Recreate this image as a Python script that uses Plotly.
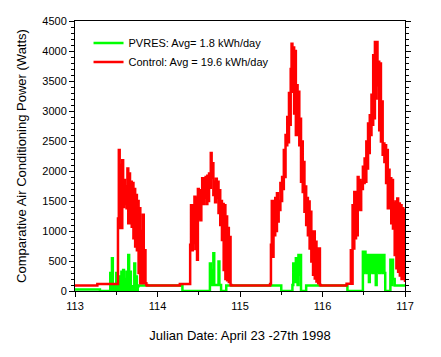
import numpy as np
import plotly.graph_objects as go

# 15-minute samples from Julian day 113.0 to 117.0
SAMPLES_PER_DAY = 96
DAY_START = 113.0

# ---- Control (red) power, Watts ----
control_night1 = [90] * 26
control_predawn1 = [115] * 23
control_day1 = [115, 1210, 2350, 1050, 2100, 1050, 2180, 1400, 1850, 1450, 1740, 1380,
                2040, 1130, 1960, 1130, 1820, 1070, 1800, 880, 1700, 740, 1600, 680,
                1500, 300, 1380, 130, 1000, 130, 1270, 130, 680, 130, 100]
control_night2 = [90] * 38
control_predawn2 = [115] * 12
control_day2 = [770, 1430, 680, 1430, 800, 1570, 700, 1550, 520, 1700, 1210, 1680,
                1180, 1540, 1880, 1450, 1880, 1560, 1900, 1450, 1920, 1500, 1960, 1720,
                2300, 1890, 2130, 1600, 1820, 1480, 1870, 1550, 1820, 1300, 1680, 1100,
                1500, 850, 1450, 350, 1430, 200, 1240, 180, 1050, 150, 900, 100]
control_night3 = [90] * 45
control_predawn3 = [115] * 1
control_day3 = [770, 1500, 570, 1500, 930, 1550, 1000, 1630, 1160, 1500, 1350, 1800,
                1500, 1900, 1700, 2350, 1900, 2600, 2430, 2900, 2480, 3300, 2770, 3700,
                4120, 3320, 4060, 2960, 4000, 2600, 3430, 2600, 3320, 2430, 2870, 1820,
                2490, 1650, 2150, 1320, 1740, 1100, 1550, 930, 1490, 710, 1320, 490,
                990, 270, 990, 210, 820, 160, 710, 130, 710, 100]
control_night4 = [90] * 30
control_predawn4 = [120] * 5
control_day4 = [680, 120, 1430, 710, 1650, 880, 1650, 930, 1900, 1380, 1850, 1350,
                1820, 1700, 2070, 1800, 2210, 1820, 2490, 2040, 2790, 2300, 2930, 2600,
                3270, 2770, 3930, 2880, 4150, 3210, 4150, 3430, 3820, 2680, 3790, 2490,
                3160, 2270, 2460, 2150, 2430, 1800, 2350, 1380, 2020, 1380, 1880, 1130,
                1850, 1040, 1460, 600, 1490, 380, 1540, 320, 1460, 260, 1430, 200,
                1380, 200, 1350, 150]

# ---- PVRES (green) power, Watts ----
pvres_night1 = [25] * 29
pvres_morning1 = [0] * 12
pvres_day1 = [300, 0, 545, 0, 100, 0, 0, 300, 0, 100, 0, 240, 0, 320, 0, 350, 0, 200,
              0, 320, 0, 600, 0, 320, 0, 80, 0, 0, 460, 0, 240, 0, 80]
pvres_night2 = [90] * 51
pvres_morning2 = [0] * 32
pvres_day2 = [460, 100, 350, 100, 630, 100, 100, 100, 100, 100, 490, 100, 100, 0]
pvres_after2 = [0] * 5
pvres_night3 = [90] * 64
pvres_morning3 = [0] * 13
pvres_day3 = [100, 460, 150, 270, 545, 150, 100, 600, 270, 600]
pvres_after3 = [0] * 6
pvres_night4 = [90] * 48
pvres_morning4 = [0] * 18
pvres_day4 = [655, 300, 655, 320, 600, 300, 600, 150, 600, 320, 600, 300, 600, 300,
              600, 100, 600, 320, 600, 300, 600, 320, 600, 300, 600, 300,
              0, 0, 0, 0, 0, 0, 520, 100, 520, 200, 200, 90]
pvres_night5 = [90] * 12

control = (control_night1 + control_predawn1 + control_day1 + control_night2 +
           control_predawn2 + control_day2 + control_night3 + control_predawn3 +
           control_day3 + control_night4 + control_predawn4 + control_day4)
pvres = (pvres_night1 + pvres_morning1 + pvres_day1 + pvres_night2 + pvres_morning2 +
         pvres_day2 + pvres_after2 + pvres_night3 + pvres_morning3 + pvres_day3 +
         pvres_after3 + pvres_night4 + pvres_morning4 + pvres_day4 + pvres_night5)

t_control = DAY_START + np.arange(len(control)) / SAMPLES_PER_DAY
t_pvres = DAY_START + np.arange(len(pvres)) / SAMPLES_PER_DAY

x_ticks = [113, 114, 115, 116, 117]

FONT = "Arial, 'Liberation Sans', sans-serif"

fig = go.Figure()
fig.add_trace(go.Scatter(x=t_pvres, y=pvres, mode="lines", line_shape="hv",
                         line=dict(color="#00FF00", width=2.5),
                         name="PVRES: Avg= 1.8 kWh/day"))
fig.add_trace(go.Scatter(x=t_control, y=control, mode="lines", line_shape="hv",
                         line=dict(color="#FF0000", width=2.5),
                         name="Control: Avg = 19.6 kWh/day"))

fig.update_layout(
    width=441, height=357,
    margin=dict(l=75, r=36, t=21, b=66, autoexpand=False),
    paper_bgcolor="white", plot_bgcolor="white",
    font=dict(family=FONT, size=11, color="black"),
    showlegend=True,
    legend=dict(x=0.041, y=0.972, xanchor="left", yanchor="top",
                bgcolor="rgba(0,0,0,0)", borderwidth=0,
                font=dict(family=FONT, size=11, color="black"),
                tracegroupgap=0, itemwidth=30),
)
fig.update_xaxes(
    range=[113, 117], tickvals=x_ticks, ticktext=[str(v) for v in x_ticks],
    ticks="outside", ticklen=5, tickwidth=1, tickcolor="black",
    showline=True, linecolor="black", linewidth=1, mirror=True,
    showgrid=False, zeroline=False, automargin=False,
    minor=dict(dtick=0.5, tick0=113, ticks="outside", ticklen=3, tickcolor="black", showgrid=False),
    tickfont=dict(family=FONT, size=11, color="black"),
    title=dict(text="Julian Date: April 23 -27th 1998", font=dict(family=FONT, size=13, color="black"), standoff=19),
)
fig.update_yaxes(
    range=[0, 4500], dtick=500, tick0=0, tickformat="d",
    ticks="outside", ticklen=5, tickwidth=1, tickcolor="black",
    showline=True, linecolor="black", linewidth=1, mirror="ticks",
    showgrid=False, zeroline=False, automargin=False,
    minor=dict(dtick=100, ticks="outside", ticklen=3, tickcolor="black", showgrid=False),
    tickfont=dict(family=FONT, size=11, color="black"),
    title=dict(text="Comparative Air Conditioning Power (Watts)", font=dict(family=FONT, size=13, color="black"), standoff=12),
)

fig.write_html("out.html", config={"displayModeBar": False},
               post_script="document.body.style.margin='0';")
